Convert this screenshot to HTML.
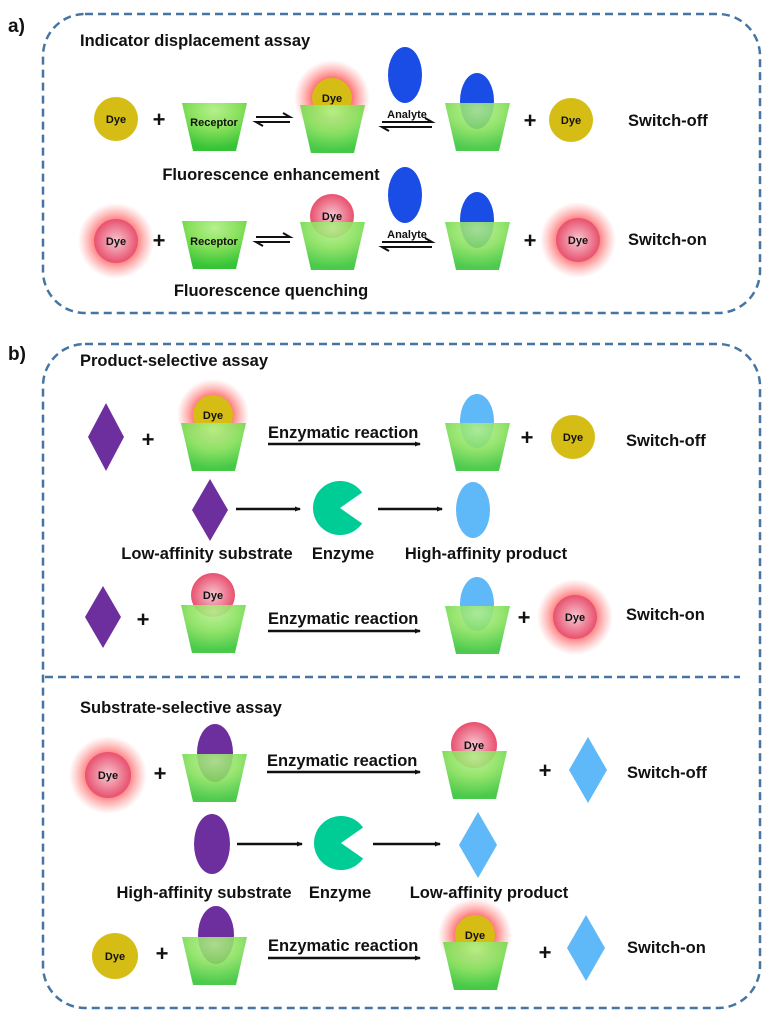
<!DOCTYPE html>
<html><head><meta charset="utf-8"><style>
html,body{margin:0;padding:0;background:#fff;}
svg{display:block;}
text{font-family:"Liberation Sans",Arial,sans-serif;font-weight:bold;fill:#111;}
</style></head><body>
<svg width="776" height="1024" viewBox="0 0 776 1024" xmlns="http://www.w3.org/2000/svg">
<defs>
<radialGradient id="cupg" cx="0.5" cy="0.15" r="0.8">
<stop offset="0" stop-color="#b6f08e"/><stop offset="0.5" stop-color="#86e05a"/><stop offset="1" stop-color="#36c437"/>
</radialGradient>
<radialGradient id="glow" cx="0.5" cy="0.5" r="0.5">
<stop offset="0.5" stop-color="#ff5c5c" stop-opacity="0.9"/><stop offset="1" stop-color="#ff8080" stop-opacity="0"/>
</radialGradient>
<radialGradient id="pink" cx="0.5" cy="0.5" r="0.5">
<stop offset="0" stop-color="#f7c8d2"/><stop offset="1" stop-color="#e8506e"/>
</radialGradient>
<path id="cup" d="M0 0 H65 L54 48 H11 Z"/>
<marker id="ah" markerWidth="6" markerHeight="6" refX="5" refY="3" orient="auto" markerUnits="userSpaceOnUse"><path d="M0 0.5 L6 3 L0 5.5 Z" fill="#111"/></marker>
</defs>

<g fill="none" stroke="#4775a3" stroke-width="2.5" stroke-dasharray="8 5">
<rect x="43" y="14" width="717" height="299" rx="42"/>
<rect x="43" y="344" width="717" height="664" rx="42"/>
<line x1="45" y1="677" x2="740" y2="677"/>
</g>
<text x="8" y="32" font-size="19">a)</text>
<text x="8" y="360" font-size="19">b)</text>
<text x="80" y="46" font-size="16.5">Indicator displacement assay</text>
<text x="80" y="366" font-size="16.5">Product-selective assay</text>
<text x="80" y="713" font-size="16.5">Substrate-selective assay</text>

<!-- a row 1 -->
<circle cx="116" cy="119" r="22" fill="#d6bd16"/><text x="116" y="123" font-size="11" text-anchor="middle">Dye</text>
<text x="159" y="127" font-size="22" text-anchor="middle">+</text>
<use href="#cup" x="182" y="103" fill="url(#cupg)"/><text x="214" y="126" font-size="11" text-anchor="middle">Receptor</text>
<g stroke="#111" stroke-width="2" fill="none"><path d="M256 117 H290 L283 113"/><path d="M290 122 H256 L263 126"/></g>
<circle cx="332" cy="98" r="38" fill="url(#glow)"/>
<circle cx="332" cy="98" r="20" fill="#d6bd16"/><text x="332" y="102" font-size="11" text-anchor="middle">Dye</text>
<use href="#cup" x="300" y="105" fill="url(#cupg)" opacity="0.92"/>
<ellipse cx="405" cy="75" rx="17" ry="28" fill="#1a4de6"/>
<text x="407" y="118" font-size="11" text-anchor="middle">Analyte</text>
<g stroke="#111" stroke-width="2" fill="none"><path d="M382 122 H432 L425 118"/><path d="M432 127 H382 L389 131"/></g>
<ellipse cx="477" cy="101" rx="17" ry="28" fill="#1a4de6"/>
<use href="#cup" x="445" y="103" fill="url(#cupg)" opacity="0.88"/>
<text x="530" y="128" font-size="22" text-anchor="middle">+</text>
<circle cx="571" cy="120" r="22" fill="#d6bd16"/><text x="571" y="124" font-size="11" text-anchor="middle">Dye</text>
<text x="628" y="126" font-size="16.5">Switch-off</text>
<text x="271" y="180" font-size="16.5" text-anchor="middle">Fluorescence enhancement</text>

<!-- a row 2 -->
<circle cx="116" cy="241" r="38" fill="url(#glow)"/>
<circle cx="116" cy="241" r="22" fill="url(#pink)"/><text x="116" y="245" font-size="11" text-anchor="middle">Dye</text>
<text x="159" y="248" font-size="22" text-anchor="middle">+</text>
<use href="#cup" x="182" y="221" fill="url(#cupg)"/><text x="214" y="245" font-size="11" text-anchor="middle">Receptor</text>
<g stroke="#111" stroke-width="2" fill="none"><path d="M256 237 H290 L283 233"/><path d="M290 242 H256 L263 246"/></g>
<circle cx="332" cy="216" r="22" fill="url(#pink)"/><text x="332" y="220" font-size="11" text-anchor="middle">Dye</text>
<use href="#cup" x="300" y="222" fill="url(#cupg)" opacity="0.9"/>
<ellipse cx="405" cy="195" rx="17" ry="28" fill="#1a4de6"/>
<text x="407" y="238" font-size="11" text-anchor="middle">Analyte</text>
<g stroke="#111" stroke-width="2" fill="none"><path d="M382 242 H432 L425 238"/><path d="M432 247 H382 L389 251"/></g>
<ellipse cx="477" cy="220" rx="17" ry="28" fill="#1a4de6"/>
<use href="#cup" x="445" y="222" fill="url(#cupg)" opacity="0.88"/>
<text x="530" y="248" font-size="22" text-anchor="middle">+</text>
<circle cx="578" cy="240" r="38" fill="url(#glow)"/>
<circle cx="578" cy="240" r="22" fill="url(#pink)"/><text x="578" y="244" font-size="11" text-anchor="middle">Dye</text>
<text x="628" y="245" font-size="16.5">Switch-on</text>
<text x="271" y="296" font-size="16.5" text-anchor="middle">Fluorescence quenching</text>

<!-- product row 1 -->
<polygon points="106,403 124,437 106,471 88,437" fill="#6e2f9e"/>
<text x="148" y="447" font-size="22" text-anchor="middle">+</text>
<circle cx="213" cy="415" r="36" fill="url(#glow)"/>
<circle cx="213" cy="415" r="20" fill="#d6bd16"/><text x="213" y="419" font-size="11" text-anchor="middle">Dye</text>
<use href="#cup" x="181" y="423" fill="url(#cupg)" opacity="0.92"/>
<text x="268" y="438" font-size="16.5">Enzymatic reaction</text>
<line x1="268" y1="444" x2="420" y2="444" stroke="#111" stroke-width="2.5" marker-end="url(#ah)"/>
<ellipse cx="477" cy="421" rx="17" ry="27" fill="#5fb8f7"/>
<use href="#cup" x="445" y="423" fill="url(#cupg)" opacity="0.88"/>
<text x="527" y="445" font-size="22" text-anchor="middle">+</text>
<circle cx="573" cy="437" r="22" fill="#d6bd16"/><text x="573" y="441" font-size="11" text-anchor="middle">Dye</text>
<text x="626" y="446" font-size="16.5">Switch-off</text>

<!-- product middle -->
<polygon points="210,479 228,510 210,541 192,510" fill="#6e2f9e"/>
<line x1="236" y1="509" x2="300" y2="509" stroke="#111" stroke-width="2.5" marker-end="url(#ah)"/>
<path d="M340 508 L362.1 492.5 A27 27 0 1 0 362.1 523.5 Z" fill="#00cc96"/>
<line x1="378" y1="509" x2="442" y2="509" stroke="#111" stroke-width="2.5" marker-end="url(#ah)"/>
<ellipse cx="473" cy="510" rx="17" ry="28" fill="#5fb8f7"/>
<text x="207" y="559" font-size="16.5" text-anchor="middle">Low-affinity substrate</text>
<text x="343" y="559" font-size="16.5" text-anchor="middle">Enzyme</text>
<text x="486" y="559" font-size="16.5" text-anchor="middle">High-affinity product</text>

<!-- product row 3 -->
<polygon points="103,586 121,617 103,648 85,617" fill="#6e2f9e"/>
<text x="143" y="627" font-size="22" text-anchor="middle">+</text>
<circle cx="213" cy="595" r="22" fill="url(#pink)"/><text x="213" y="599" font-size="11" text-anchor="middle">Dye</text>
<use href="#cup" x="181" y="605" fill="url(#cupg)" opacity="0.9"/>
<text x="268" y="624" font-size="16.5">Enzymatic reaction</text>
<line x1="268" y1="631" x2="420" y2="631" stroke="#111" stroke-width="2.5" marker-end="url(#ah)"/>
<ellipse cx="477" cy="604" rx="17" ry="27" fill="#5fb8f7"/>
<use href="#cup" x="445" y="606" fill="url(#cupg)" opacity="0.88"/>
<text x="524" y="625" font-size="22" text-anchor="middle">+</text>
<circle cx="575" cy="617" r="38" fill="url(#glow)"/>
<circle cx="575" cy="617" r="22" fill="url(#pink)"/><text x="575" y="621" font-size="11" text-anchor="middle">Dye</text>
<text x="626" y="620" font-size="16.5">Switch-on</text>

<!-- substrate row 1 -->
<circle cx="108" cy="775" r="39" fill="url(#glow)"/>
<circle cx="108" cy="775" r="23" fill="url(#pink)"/><text x="108" y="779" font-size="11" text-anchor="middle">Dye</text>
<text x="160" y="781" font-size="22" text-anchor="middle">+</text>
<ellipse cx="215" cy="753" rx="18" ry="29" fill="#6e2f9e"/>
<use href="#cup" x="182" y="754" fill="url(#cupg)" opacity="0.88"/>
<text x="267" y="766" font-size="16.5">Enzymatic reaction</text>
<line x1="267" y1="772" x2="420" y2="772" stroke="#111" stroke-width="2.5" marker-end="url(#ah)"/>
<circle cx="474" cy="745" r="23" fill="url(#pink)"/><text x="474" y="749" font-size="11" text-anchor="middle">Dye</text>
<use href="#cup" x="442" y="751" fill="url(#cupg)" opacity="0.9"/>
<text x="545" y="778" font-size="22" text-anchor="middle">+</text>
<polygon points="588,737 607,770 588,803 569,770" fill="#5fb8f7"/>
<text x="627" y="778" font-size="16.5">Switch-off</text>

<!-- substrate middle -->
<ellipse cx="212" cy="844" rx="18" ry="30" fill="#6e2f9e"/>
<line x1="237" y1="844" x2="302" y2="844" stroke="#111" stroke-width="2.5" marker-end="url(#ah)"/>
<path d="M341 843 L363.1 827.5 A27 27 0 1 0 363.1 858.5 Z" fill="#00cc96"/>
<line x1="373" y1="844" x2="440" y2="844" stroke="#111" stroke-width="2.5" marker-end="url(#ah)"/>
<polygon points="478,812 497,845 478,878 459,845" fill="#5fb8f7"/>
<text x="204" y="898" font-size="16.5" text-anchor="middle">High-affinity substrate</text>
<text x="340" y="898" font-size="16.5" text-anchor="middle">Enzyme</text>
<text x="489" y="898" font-size="16.5" text-anchor="middle">Low-affinity product</text>

<!-- substrate row 3 -->
<circle cx="115" cy="956" r="23" fill="#d6bd16"/><text x="115" y="960" font-size="11" text-anchor="middle">Dye</text>
<text x="162" y="961" font-size="22" text-anchor="middle">+</text>
<ellipse cx="216" cy="935" rx="18" ry="29" fill="#6e2f9e"/>
<use href="#cup" x="182" y="937" fill="url(#cupg)" opacity="0.88"/>
<text x="268" y="951" font-size="16.5">Enzymatic reaction</text>
<line x1="268" y1="958" x2="420" y2="958" stroke="#111" stroke-width="2.5" marker-end="url(#ah)"/>
<circle cx="475" cy="935" r="37" fill="url(#glow)"/>
<circle cx="475" cy="935" r="20" fill="#d6bd16"/><text x="475" y="939" font-size="11" text-anchor="middle">Dye</text>
<use href="#cup" x="443" y="942" fill="url(#cupg)" opacity="0.92"/>
<text x="545" y="960" font-size="22" text-anchor="middle">+</text>
<polygon points="586,915 605,948 586,981 567,948" fill="#5fb8f7"/>
<text x="627" y="953" font-size="16.5">Switch-on</text>
</svg>
</body></html>
